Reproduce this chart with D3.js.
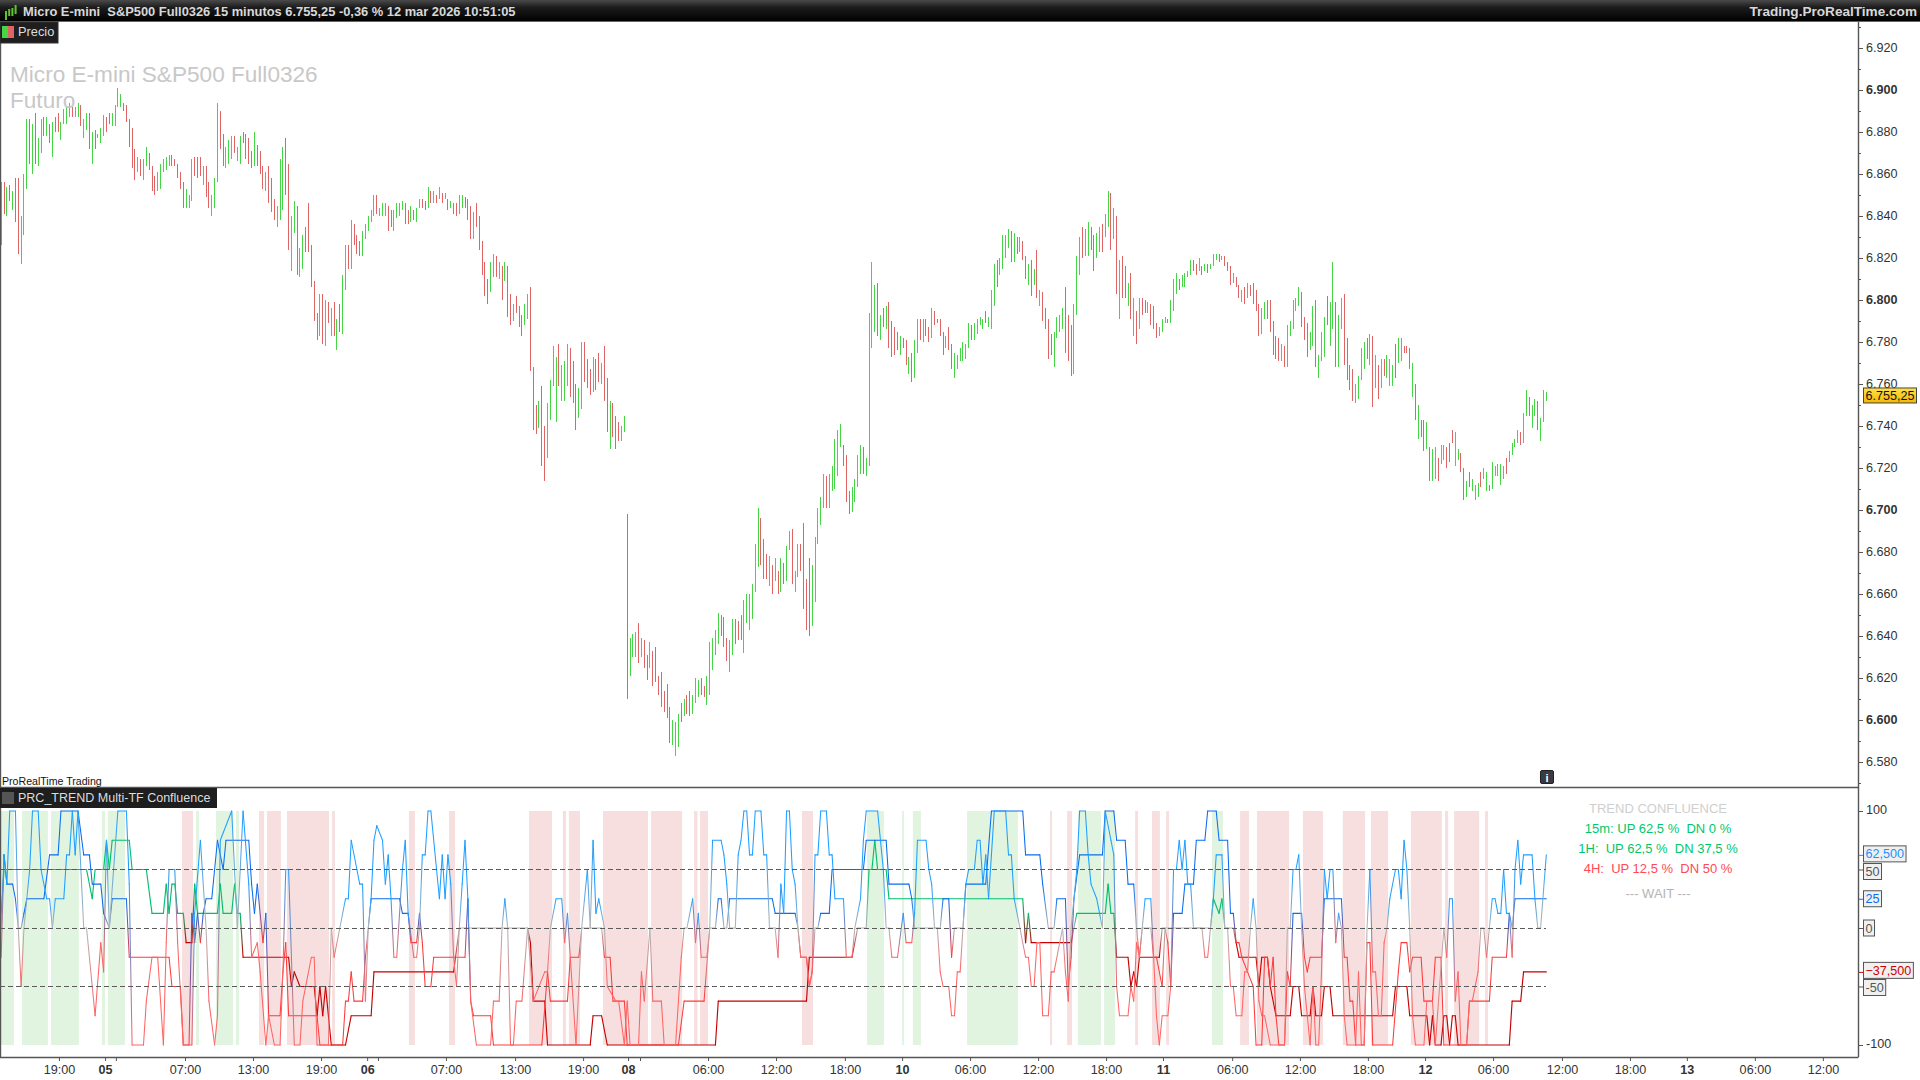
<!DOCTYPE html>
<html><head><meta charset="utf-8">
<script src="https://cdn.jsdelivr.net/npm/d3@7"></script>
<style>html,body{margin:0;padding:0;background:#fff;overflow:hidden}text{font-family:"Liberation Sans",Arial,sans-serif}</style>
</head><body><div id="c"></div>
<script>
const barHighs=[6856,6856,6854,6855,6852,6858,6858,6840,6860,6886,
6886,6884,6889,6877,6886,6887,6887,6884,6885,6887,
6889,6885,6891,6892,6894,6892,6892,6894,6893,6886,
6889,6889,6880,6881,6879,6882,6888,6887,6889,6889,
6893,6901,6898,6894,6893,6886,6882,6872,6868,6867,
6867,6873,6870,6864,6859,6861,6865,6867,6868,6869,
6869,6867,6865,6861,6856,6853,6850,6867,6868,6868,
6868,6864,6864,6856,6850,6858,6894,6890,6879,6873,
6876,6878,6878,6873,6878,6880,6879,6877,6871,6880,
6874,6871,6864,6861,6864,6858,6848,6845,6867,6873,
6877,6865,6840,6847,6845,6825,6831,6835,6846,6826,
6809,6794,6803,6803,6800,6799,6796,6799,6791,6798,
6812,6826,6826,6838,6836,6831,6828,6833,6836,6840,
6843,6850,6850,6844,6846,6846,6845,6843,6843,6846,6846,
6847,6846,6843,6845,6843,6844,6848,6848,6847,6854,
6852,6852,6850,6854,6851,6851,6848,6847,6846,6846,
6850,6850,6849,6848,6845,6842,6846,6840,6828,6818,
6810,6818,6822,6821,6818,6816,6818,6816,6803,6798,
6802,6797,6793,6798,6803,6806,
6768,6750,6752,6759,6740,6751,6762,6778,6773,6779,
6769,6771,6779,6777,6771,6760,6758,6780,6780,6772,
6767,6773,6772,6775,6770,6778,6763,6752,6751,6745,6742,6740,6745,
6698,6639,6641,6642,6646,6639,6638,6631,6637,6633,
6635,6621,6623,6614,6617,6606,6600,6599,6603,6608,
6610,6612,6614,6612,6620,6619,6620,6616,6621,6637,
6639,6643,6651,6650,6649,6639,6638,6648,6648,6647,
6650,6657,6660,6660,6665,6684,6701,6696,6686,6679,
6678,6674,6677,6671,6677,6675,6683,6690,6691,6671,
6684,6684,6694,6667,6677,6674,6687,6701,6706,6717,
6716,6717,6721,6734,6738,6741,6731,6726,6709,6711,
6715,6726,6731,6730,6725,6794,6818,6807,6808,6793,
6796,6797,6799,6790,6787,6785,6783,6782,6781,6773,
6775,6781,6791,
6791,6791,6791,6787,6796,6795,6791,6791,6785,6783,
6787,6779,6775,6774,6777,6780,6779,6789,6788,6789,
6791,6792,6791,6795,6792,6805,6817,6819,6820,6831,
6831,6834,6833,6832,6830,6830,6828,6821,6817,6819,
6815,6824,6805,6804,6796,6791,6784,6785,6792,6793,
6796,6806,6793,6788,6798,6821,6830,6835,6834,6837,
6835,6831,6832,6835,6836,6841,6852,6851,6844,6840,
6819,6821,6816,6808,6813,6801,6795,6801,6801,6800,
6799,6798,6797,6789,6787,6791,6792,6791,6800,6810,
6813,6810,6812,6813,6814,6819,6819,6817,6820,6816,
6817,6817,6817,6822,6822,6822,6821,6821,6818,6816,
6813,6811,6807,6805,6806,6808,6807,6808,6805,6798,
6796,6799,6800,6800,6790,6783,6782,6779,6778,6788,
6790,6800,6801,6806,6804,6792,6789,6785,6797,6800,
6774,6785,6792,6802,6799,6818,6799,6793,6801,6803,
6782,6769,6767,6760,6764,6777,6780,6782,6784,6783,
6774,6769,6772,6772,6774,6772,6769,6779,6782,6782,
6778,6778,6777,6770,6760,6750,6743,6743,6742,6730,
6729,6730,6725,6731,6731,6730,6732,6738,6737,6729,
6727,6720,6714,6718,6715,6712,6713,6718,6720,6718,
6712,6723,6721,6722,6722,6721,6725,6728,6732,6734,
6738,6737,6746,6757,6754,6750,6753,6752,6744,6757,6756];
const barLows=[6826,6841,6840,6847,6843,6837,6822,6817,6831,6853,
6865,6860,6865,6864,6870,6878,6878,6875,6868,6880,
6880,6876,6884,6884,6887,6887,6887,6887,6883,6877,
6881,6872,6865,6872,6877,6875,6878,6880,6884,6883,
6883,6892,6892,6890,6885,6873,6863,6857,6861,6859,
6857,6864,6862,6852,6850,6852,6853,6861,6862,6864,
6864,6864,6858,6853,6844,6844,6844,6847,6859,6858,
6859,6855,6849,6844,6840,6844,6856,6872,6864,6863,
6865,6867,6870,6866,6865,6875,6867,6865,6863,6864,
6864,6860,6853,6852,6846,6842,6838,6835,6838,6843,
6850,6824,6814,6832,6812,6811,6815,6823,6823,6806,
6790,6781,6783,6779,6778,6789,6783,6783,6776,6785,
6784,6805,6815,6815,6826,6822,6821,6821,6829,6833,
6837,6840,6841,6840,6840,6840,6833,6835,6833,6839,6840,
6843,6836,6836,6837,6838,6837,6844,6844,6843,6844,
6846,6846,6846,6848,6846,6848,6843,6844,6841,6840,
6841,6844,6844,6838,6829,6829,6835,6824,6812,6802,
6798,6804,6811,6811,6810,6800,6809,6792,6788,6790,
6794,6787,6783,6788,6791,6766,
6738,6736,6739,6721,6714,6725,6743,6759,6742,6759,
6752,6752,6759,6754,6751,6738,6744,6748,6761,6758,
6755,6756,6757,6761,6760,6752,6737,6729,6735,6729,6733,6733,6737,
6610,6621,6630,6630,6627,6630,6625,6619,6625,6616,
6618,6612,6606,6604,6601,6589,6588,6583,6587,6599,
6602,6603,6602,6603,6608,6611,6612,6611,6607,6612,
6624,6631,6636,6640,6635,6628,6623,6631,6636,6638,
6638,6632,6646,6643,6648,6661,6673,6674,6667,6667,
6664,6660,6666,6660,6661,6665,6666,6681,6665,6661,
6668,6671,6653,6643,6640,6645,6656,6684,6693,6701,
6701,6701,6709,6710,6716,6730,6721,6704,6698,6699,
6704,6711,6717,6717,6716,6721,6777,6785,6783,6781,
6787,6786,6777,6773,6774,6776,6774,6777,6769,6765,
6761,6763,6775,
6781,6780,6783,6780,6782,6788,6789,6783,6774,6777,
6776,6767,6763,6767,6771,6771,6772,6777,6781,6781,
6784,6788,6786,6789,6787,6786,6797,6806,6812,6815,
6820,6825,6818,6818,6822,6823,6819,6810,6807,6802,
6807,6801,6797,6790,6786,6772,6774,6768,6782,6785,
6786,6775,6771,6764,6765,6793,6812,6820,6821,6821,
6824,6814,6820,6823,6823,6830,6835,6824,6829,6803,
6791,6801,6801,6797,6791,6783,6779,6786,6793,6794,
6794,6788,6786,6782,6783,6785,6789,6789,6789,6795,
6803,6805,6806,6806,6811,6812,6814,6812,6814,6812,
6814,6813,6815,6816,6819,6818,6819,6816,6814,6807,
6808,6806,6801,6799,6798,6801,6802,6798,6795,6783,
6784,6791,6791,6785,6774,6772,6771,6771,6768,6768,
6783,6786,6795,6797,6787,6781,6773,6776,6778,6768,
6763,6771,6773,6788,6778,6786,6768,6768,6786,6769,
6762,6757,6752,6751,6753,6762,6767,6772,6769,6749,
6758,6753,6758,6764,6763,6759,6759,6763,6770,6771,
6775,6775,6767,6754,6743,6734,6735,6728,6729,6714,
6714,6715,6714,6722,6724,6720,6723,6732,6721,6724,
6718,6705,6706,6711,6709,6705,6706,6711,6715,6709,
6709,6710,6716,6716,6712,6715,6717,6723,6726,6730,
6732,6731,6732,6745,6745,6739,6745,6738,6733,6742,6752];
const barUp=[1,0,1,0,1,0,0,1,1,1,
0,1,0,1,1,0,1,0,1,0,
0,1,1,1,1,0,1,1,0,1,
1,0,1,0,1,1,1,0,0,1,
1,1,1,0,0,0,0,0,1,0,
1,1,0,0,0,1,1,1,1,1,
0,0,0,0,0,1,1,1,0,0,
0,1,0,0,1,1,1,0,0,1,
1,1,0,1,1,0,0,0,0,1,
0,0,0,1,0,0,0,1,1,1,
0,0,1,1,0,1,1,0,0,0,
0,0,1,0,1,0,1,0,1,0,
1,1,0,1,0,0,0,1,1,1,
1,1,0,1,1,1,0,0,1,1,1,
1,0,0,1,0,1,1,0,0,1,
0,1,0,1,0,1,0,1,0,0,
1,1,0,0,0,1,0,0,0,0,
0,1,1,0,1,0,1,0,0,1,
0,0,0,1,1,0,
0,0,1,0,0,1,1,1,1,0,
1,1,1,0,0,0,1,1,0,0,
0,1,0,0,1,0,0,1,0,0,0,1,1,
0,1,1,1,0,1,0,0,1,0,
0,0,0,0,0,0,1,1,1,0,
1,0,0,1,1,1,0,0,1,1,
1,1,1,0,0,0,1,1,0,0,
0,1,1,1,1,1,1,0,0,0,
1,0,1,0,1,0,1,1,0,1,
1,0,0,0,0,1,1,1,1,1,
0,1,1,1,1,1,0,0,0,1,
1,1,1,0,1,1,1,1,0,1,
0,1,0,0,0,0,1,0,0,1,
0,1,1,
0,1,0,0,1,0,0,0,0,1,
0,0,1,1,1,1,1,1,0,1,
1,1,1,0,1,1,1,0,1,1,
1,1,0,1,0,1,0,0,1,0,
1,0,1,0,0,0,0,1,1,1,
1,0,0,0,1,1,1,0,1,1,
0,0,1,1,0,1,1,0,1,0,
1,0,0,1,0,1,0,1,0,0,
1,0,0,0,1,1,1,0,1,1,
1,0,1,1,1,1,0,0,1,0,
1,0,1,1,1,0,1,0,0,0,
1,0,0,1,0,1,0,0,0,0,
1,1,0,0,0,0,0,1,0,1,
1,1,1,1,0,0,0,1,1,0,
1,1,1,0,1,1,0,1,1,0,
0,0,0,1,1,1,1,0,1,0,
1,0,1,0,1,1,1,0,1,1,
0,0,0,1,0,1,0,0,1,0,
1,1,0,1,1,0,0,0,1,1,
0,0,1,0,1,1,1,0,1,1,
0,1,1,1,1,1,0,1,1,1,
1,0,1,1,0,1,1,0,1,1,1];

const points15m=[[0,-25],[1,62.5],[2,37.5],[3,100],[5,100],[6,0],[7,-50],[8,0],[10,50],[11,100],[13,100],[14,50],[16,25],[17,25],[18,0],[19,25],[22,25],[23,62.5],[24,62.5],[25,100],[26,62.5],[27,100],[29,0],[30,0],[33,-75],[35,-12.5],[36,-37.5],[37,75],[38,0],[41,100],[44,100],[45,37.5],[46,-100],[50,-100],[51,-62.5],[53,-25],[55,-25],[57,-100],[58,-12.5],[59,50],[61,50],[62,-12.5],[64,-100],[67,-100],[68,12.5],[70,75],[72,0],[73,-62.5],[75,-100],[76,-75],[77,75],[81,100],[83,0],[85,100],[87,37.5],[88,-25],[90,-12.5],[91,-37.5],[93,-100],[94,-75],[96,-100],[98,-100],[99,-37.5],[100,50],[101,50],[103,-100],[105,-100],[106,-62.5],[109,-25],[110,-25],[111,-100],[115,-100],[116,0],[117,-25],[119,0],[121,25],[122,25],[123,75],[125,50],[126,37.5],[127,37.5],[128,-62.5],[129,0],[130,25],[131,75],[132,87.5],[134,75],[135,37.5],[136,62.5],[137,25],[138,-25],[139,-25],[141,50],[142,75],[143,12.5],[145,-25],[146,-25],[147,0],[148,62.5],[149,62.5],[150,100],[151,100],[154,25],[155,62.5],[156,25],[157,62.5],[158,37.5],[159,-25],[160,-50],[161,0],[162,37.5],[163,75],[164,25],[165,-62.5],[167,-100],[172,-100],[173,-62.5],[175,-62.5],[176,0],[177,25],[178,0],[179,-100],[180,-100],[181,-62.5],[183,-62.5],[185,0],[187,-62.5],[191,-37.5],[192,-37.5],[193,0],[195,25],[197,25],[198,-12.5],[199,12.5],[200,-25],[202,-100],[204,0],[206,50],[207,0],[208,75],[209,12.5],[210,25],[212,0],[213,-50],[216,-62.5],[217,-62.5],[219,-100],[220,-62.5],[221,-100],[224,-100],[225,-37.5],[226,-62.5],[228,0],[229,-62.5],[232,-62.5],[233,-100],[237,-100],[239,-25],[240,0],[241,0],[243,25],[244,-12.5],[245,12.5],[246,-25],[248,-25],[249,0],[250,75],[253,75],[254,62.5],[255,37.5],[256,0],[258,0],[259,62.5],[260,75],[261,100],[262,100],[263,62.5],[264,62.5],[265,100],[267,100],[268,62.5],[269,62.5],[270,0],[272,0],[273,-25],[274,37.5],[275,12.5],[276,100],[277,100],[278,50],[279,37.5],[280,0],[281,-25],[283,-25],[284,-50],[285,-37.5],[286,62.5],[287,62.5],[288,100],[290,100],[291,62.5],[292,62.5],[293,25],[296,25],[297,-25],[299,-25],[300,0],[302,25],[303,75],[304,100],[308,100],[310,50],[311,0],[312,0],[313,-25],[315,-25],[317,12.5],[318,-12.5],[320,-12.5],[321,12.5],[322,75],[325,75],[326,50],[327,37.5],[328,0],[329,0],[330,-37.5],[331,-50],[333,-50],[334,-75],[335,-75],[336,-37.5],[337,-37.5],[338,0],[339,37.5],[340,50],[342,50],[343,75],[344,75],[345,37.5],[346,62.5],[347,25],[348,62.5],[349,100],[353,100],[354,62.5],[355,62.5],[356,25],[358,0],[360,-25],[361,-25],[362,-50],[363,-50],[364,-12.5],[365,-12.5],[366,-75],[368,-75],[369,-37.5],[370,-37.5],[373,0],[374,-37.5],[375,-62.5],[376,0],[378,50],[379,100],[381,100],[382,62.5],[383,37.5],[385,25],[386,12.5],[387,0],[388,100],[390,75],[391,62.5],[392,-50],[393,-75],[396,-75],[397,-50],[398,-62.5],[399,-12.5],[400,-25],[401,0],[402,25],[404,25],[405,-25],[406,-75],[407,-100],[408,-75],[410,-75],[411,-50],[412,50],[413,50],[414,75],[415,50],[416,75],[417,37.5],[418,37.5],[419,0],[422,0],[423,-25],[424,-25],[425,0],[426,25],[427,62.5],[429,62.5],[430,0],[431,0],[432,-50],[433,-50],[434,-75],[436,-75],[437,-37.5],[438,-37.5],[439,0],[440,25],[441,0],[442,-62.5],[443,-75],[444,-75],[446,-100],[451,-100],[452,0],[453,0],[454,50],[455,50],[456,62.5],[457,0],[458,-50],[460,-100],[461,-50],[462,-100],[463,-100],[464,-37.5],[465,50],[466,25],[467,50],[468,50],[469,-12.5],[470,12.5],[471,0],[472,-75],[473,-100],[476,-100],[477,-37.5],[478,-100],[479,-100],[480,0],[481,50],[482,-37.5],[483,-37.5],[484,-75],[485,-75],[486,-12.5],[487,0],[488,25],[490,50],[491,50],[492,25],[493,75],[494,50],[495,0],[496,-75],[497,-100],[500,-100],[501,-62.5],[503,-62.5],[504,-100],[507,0],[508,-25],[509,25],[510,25],[511,-62.5],[512,-37.5],[513,-100],[515,-100],[516,-62.5],[517,-62.5],[519,-37.5],[520,0],[521,0],[522,-25],[523,0],[524,25],[525,25],[526,12.5],[527,12.5],[528,50],[529,12.5],[530,12.5],[531,-25],[532,50],[533,75],[534,37.5],[535,62.5],[538,62.5],[539,25],[540,0],[541,0],[543,62.5]];

const points1H=[[0,0],[1,62.5],[2,37.5],[4,37.5],[5,25],[6,0],[7,0],[8,12.5],[9,25],[15,25],[17,62.5],[20,62.5],[21,100],[27,100],[29,62.5],[31,62.5],[32,37.5],[35,37.5],[36,12.5],[38,0],[39,25],[44,25],[45,-25],[59,-25],[60,-50],[63,-50],[64,-100],[66,-100],[67,12.5],[68,-12.5],[69,12.5],[70,-12.5],[71,12.5],[72,25],[74,25],[76,75],[78,50],[79,75],[87,75],[88,37.5],[89,12.5],[90,37.5],[92,-12.5],[93,12.5],[94,-75],[98,-75],[99,-37.5],[100,-12.5],[101,-75],[111,-75],[112,-100],[120,-100],[121,-62.5],[122,-62.5],[123,-37.5],[124,-62.5],[127,-62.5],[128,-25],[129,0],[130,25],[140,25],[141,12.5],[143,12.5],[144,-12.5],[146,-12.5],[147,12.5],[148,-12.5],[149,-50],[151,-50],[152,-25],[163,-25],[164,25],[165,-62.5],[166,-75],[172,-75],[173,-100],[190,-100],[192,-37.5],[193,-62.5],[199,-62.5],[200,-25],[203,-25],[204,0],[211,0],[212,-25],[214,-25],[215,-62.5],[219,-62.5],[220,-100],[238,-100],[240,-62.5],[247,-62.5],[249,0],[251,0],[252,25],[253,25],[254,0],[255,0],[256,25],[271,25],[272,12.5],[279,12.5],[280,0],[281,-25],[283,-25],[284,-50],[285,-37.5],[286,0],[287,0],[288,12.5],[291,12.5],[292,50],[303,50],[304,75],[311,75],[312,37.5],[319,37.5],[320,25],[321,0],[330,0],[331,25],[333,25],[334,-25],[335,0],[338,0],[339,37.5],[346,37.5],[348,100],[359,100],[360,62.5],[365,62.5],[366,37.5],[368,0],[370,0],[371,25],[374,25],[375,-50],[376,-25],[377,25],[379,62.5],[387,62.5],[388,100],[391,100],[392,75],[395,75],[396,37.5],[398,37.5],[399,0],[400,-25],[401,0],[404,0],[405,-25],[406,-25],[408,-50],[409,0],[410,-12.5],[411,-50],[412,12.5],[415,12.5],[416,37.5],[419,37.5],[420,75],[423,75],[424,100],[427,100],[428,75],[431,75],[432,12.5],[433,12.5],[434,-12.5],[435,-12.5],[436,-25],[438,-37.5],[440,-50],[441,-100],[443,-100],[444,-25],[445,-25],[446,-50],[447,-25],[448,-75],[449,-100],[451,-100],[452,-37.5],[453,-50],[454,12.5],[457,12.5],[458,-25],[459,-37.5],[460,-25],[464,-25],[465,25],[471,25],[472,-25],[473,-25],[474,-62.5],[475,-62.5],[476,-100],[479,-100],[480,-12.5],[481,-12.5],[482,-100],[489,-100],[491,-37.5],[492,-12.5],[494,-12.5],[495,-37.5],[496,-25],[499,-25],[500,-62.5],[503,-62.5],[504,-25],[506,-25],[507,-100],[515,-100],[516,-62.5],[523,-62.5],[524,-25],[529,-25],[530,12.5],[531,0],[532,25],[543,25]];

const points4H=[[0,12.5],[1,50],[30,50],[32,25],[33,50],[36,50],[37,75],[38,50],[39,75],[45,75],[46,50],[51,50],[53,12.5],[57,12.5],[58,37.5],[59,12.5],[60,37.5],[61,37.5],[62,12.5],[64,12.5],[65,-12.5],[67,-12.5],[68,37.5],[69,12.5],[76,12.5],[77,37.5],[78,12.5],[81,12.5],[82,37.5],[83,12.5],[84,12.5],[85,-25],[101,-25],[102,-50],[103,-37.5],[105,-50],[110,-50],[111,-75],[112,-50],[113,-75],[114,-50],[116,-100],[121,-100],[123,-75],[130,-75],[131,-37.5],[159,-37.5],[161,0],[185,0],[186,-12.5],[187,-62.5],[191,-62.5],[192,-100],[207,-100],[208,-75],[211,-75],[213,-100],[251,-100],[252,-62.5],[283,-62.5],[284,-25],[299,-25],[301,0],[304,0],[305,50],[306,50],[307,75],[308,50],[311,50],[312,25],[359,25],[360,-12.5],[361,12.5],[362,-12.5],[376,-12.5],[377,0],[378,12.5],[388,12.5],[389,37.5],[390,12.5],[391,12.5],[392,-25],[396,-25],[397,-50],[398,-37.5],[399,-50],[400,-25],[407,-25],[408,0],[425,0],[426,25],[428,12.5],[429,25],[430,0],[433,0],[434,-12.5],[435,-25],[441,-25],[442,-50],[443,-25],[445,-25],[446,-50],[448,-75],[453,-75],[454,-50],[456,-50],[457,-75],[460,-75],[461,-50],[462,-75],[464,-75],[465,-50],[467,-50],[468,-75],[489,-75],[490,-50],[494,-50],[495,-75],[501,-75],[502,-100],[503,-75],[504,-100],[506,-100],[507,-75],[508,-75],[509,-100],[510,-75],[511,-75],[512,-100],[530,-100],[531,-62.5],[534,-62.5],[535,-37.5],[543,-37.5]];

const shadeGreenFrom=[-0.4,7.3,17.5,35.4,37.5,68.5,75.5,82.5,304.3,316.6,320.4,339.4,378.4,387.6,425.5];
const shadeGreenTo=[4.5,16.4,27.3,36.5,43.5,69.5,81.5,83.6,310.2,317.3,323.2,357.3,386.5,391.4,429.4];
const shadeRedFrom=[63.5,90.6,93.4,100.4,116.3,143.3,157.4,185.5,197.4,199.5,211.5,228.4,243.5,245.6,281.4,368.6,374.6,398.5,404.4,409.4,435.4,441.3,457.5,471.5,481.4,495.4,507.4,510.6,521.5];
const shadeRedTo=[67.4,92.4,98.3,115.2,117.3,145.4,159.5,193.6,198.5,203.4,227.3,239.3,244.7,248.4,285.3,369.3,376.3,399.5,407.2,410.4,438.5,452.6,464.5,479.3,487.4,506.3,508.5,519.4,522.5];

const timeTickBars=[20.3,36.5,40.3,64.6,88.5,112.4,128.6,132.4,156.3,180.6,204.5,220.3,224.5,248.4,272.3,296.5,316.6,340.5,364.4,388.3,408.3,432.6,456.4,480.3,500.4,524.3,548.5,572.4,592.4,616.3,640.2];
const timeTickLabels=["19:00","05","","07:00","13:00","19:00","06","","07:00","13:00","19:00","08","","06:00","12:00","18:00","10","06:00","12:00","18:00","11","06:00","12:00","18:00","12","06:00","12:00","18:00","13","06:00","12:00"];
const priceTicks=[6570,6580,6590,6600,6610,6620,6630,6640,6650,6660,6670,6680,6690,6700,6710,6720,6730,6740,6750,6760,6770,6780,6790,6800,6810,6820,6830,6840,6850,6860,6870,6880,6890,6900,6910,6920,6930];
const lastPrice=6755.25;
const indicatorTicks=[100,-100];
const indicatorTags=[62.5,50,25,0,-37.5,-50];
const tagColors=["#1e90ff","#555555","#0a6cf0","#555555","#cc0000","#555555"];
const guideLevels=[50,0,-50];
const tableLines=["TREND CONFLUENCE","15m: UP 62,5 %  DN 0 %","1H:  UP 62,5 %  DN 37,5 %","4H:  UP 12,5 %  DN 50 %","--- WAIT ---"];
const tableColors=["#cfcfcf","#00c86a","#00c86a","#ff4a55","#b4b4b4"];

const W=1920,H=1080;
const svg=d3.select("#c").append("svg").attr("width",W).attr("height",H).style("display","block");
const defs=svg.append("defs");
const x=d3.scaleLinear().domain([0,543]).range([1.2,1546.3]);
const yP=d3.scaleLinear().domain([6900,6800]).range([90,300]);
const yI=d3.scaleLinear().domain([100,-100]).range([811,1045]);
const loc=d3.formatLocale({decimal:",",thousands:".",grouping:[3],currency:["",""]});
const axisFont=12.6;

const g0=defs.append("linearGradient").attr("id","hdr").attr("x1",0).attr("x2",0).attr("y1",0).attr("y2",1);
g0.append("stop").attr("offset",0).attr("stop-color","#4a4a4a");
g0.append("stop").attr("offset",0.35).attr("stop-color","#1c1c1c");
g0.append("stop").attr("offset",1).attr("stop-color","#000");
const gY=defs.append("linearGradient").attr("id","tag").attr("x1",0).attr("x2",0).attr("y1",0).attr("y2",1);
gY.append("stop").attr("offset",0).attr("stop-color","#ffe04a");
gY.append("stop").attr("offset",1).attr("stop-color","#f5b800");

const shade=svg.append("g");
shade.selectAll("rect.g").data(d3.zip(shadeGreenFrom,shadeGreenTo)).join("rect").attr("class","g")
 .attr("x",d=>x(d[0])).attr("width",d=>x(d[1])-x(d[0])).attr("y",yI(100)).attr("height",yI(-100)-yI(100)).attr("fill","#e0f4e0");
shade.selectAll("rect.r").data(d3.zip(shadeRedFrom,shadeRedTo)).join("rect").attr("class","r")
 .attr("x",d=>x(d[0])).attr("width",d=>x(d[1])-x(d[0])).attr("y",yI(100)).attr("height",yI(-100)-yI(100)).attr("fill","#f7dfdf");

svg.append("g").selectAll("line").data(barHighs.map((h,i)=>({i,h,l:barLows[i],u:barUp[i]}))).join("line")
 .attr("x1",d=>x(d.i)).attr("x2",d=>x(d.i)).attr("y1",d=>yP(d.h)).attr("y2",d=>yP(d.l))
 .attr("stroke",d=>d.u?"#45d545":"#e06464").attr("stroke-width",1).attr("shape-rendering","crispEdges");

function series(id,pts,pos,neg,width,opacity){
 const col=v=>v>0?pos:v<0?neg:"#b4b4b4";
 const g=svg.append("g").attr("fill","none").attr("stroke-width",width).attr("stroke-opacity",opacity).attr("stroke-linecap","round");
 d3.pairs(pts).forEach(([a,b],k)=>{
  const ca=col(a[1]),cb=col(b[1]);let st=ca;
  if(ca!==cb){
   const gid=id+k;
   const lg=defs.append("linearGradient").attr("id",gid).attr("gradientUnits","userSpaceOnUse")
    .attr("x1",x(a[0])).attr("y1",yI(a[1])).attr("x2",x(b[0])).attr("y2",yI(b[1]));
   lg.append("stop").attr("offset",0).attr("stop-color",ca);
   lg.append("stop").attr("offset",1).attr("stop-color",cb);
   st="url(#"+gid+")";
  }
  g.append("line").attr("x1",x(a[0])).attr("y1",yI(a[1])).attr("x2",x(b[0])).attr("y2",yI(b[1])).attr("stroke",st);
 });
}
series("s4h",points4H,"#00c070","#c80000",1.15,1);
series("s1h",points1H,"#0a6cf0","#ff3a3a",1.05,1);
series("s15",points15m,"#1f9fff","#ff6464",1.05,1);

svg.append("g").selectAll("line").data(guideLevels).join("line")
 .attr("x1",0).attr("x2",x(543)).attr("y1",d=>yI(d)).attr("y2",d=>yI(d))
 .attr("stroke","#5a5a5a").attr("stroke-dasharray","5 3").attr("stroke-width",1).attr("shape-rendering","crispEdges");

const frame=svg.append("g").attr("stroke","#555").attr("stroke-width",1.4).attr("fill","none");
frame.append("line").attr("x1",1858.5).attr("x2",1858.5).attr("y1",21).attr("y2",1057);
frame.append("line").attr("x1",0).attr("x2",1858.5).attr("y1",787.5).attr("y2",787.5);
frame.append("line").attr("x1",0).attr("x2",1858.5).attr("y1",1057.5).attr("y2",1057.5);
frame.append("line").attr("x1",0.5).attr("x2",0.5).attr("y1",21).attr("y2",1057);

const axB=svg.append("g").attr("transform","translate(0,1057)")
 .call(d3.axisBottom(x).tickValues(timeTickBars).tickSize(4).tickPadding(1).tickFormat((d,i)=>timeTickLabels[i]));
axB.select(".domain").remove();
axB.selectAll("line").attr("stroke","#555");
axB.selectAll("text").attr("font-size",axisFont).attr("fill","#333").attr("dy","0.95em")
 .attr("font-weight",(d,i)=>timeTickLabels[i].length===2?"bold":"normal");

const axP=svg.append("g").attr("transform","translate(1859,0)")
 .call(d3.axisRight(yP).tickValues(priceTicks).tickSize(4).tickPadding(3).tickFormat(d=>d%20===0?loc.format(",d")(d):""));
axP.select(".domain").remove();
axP.selectAll("line").attr("stroke","#555").attr("x2",d=>d%20===0?4:2);
axP.selectAll("text").attr("font-size",axisFont).attr("fill","#333").attr("font-weight",d=>d%100===0?"bold":"normal").attr("dy","0.28em");

const tagG=svg.append("g");
tagG.append("rect").attr("x",1863.5).attr("y",yP(lastPrice)-6).attr("width",53).attr("height",15).attr("fill","url(#tag)").attr("stroke","#444");
tagG.append("text").attr("x",1865.5).attr("y",yP(lastPrice)+6).attr("font-size",axisFont).attr("fill","#111").text(loc.format(",.2f")(lastPrice));

const axI=svg.append("g").attr("transform","translate(1859,0)")
 .call(d3.axisRight(yI).tickValues(indicatorTicks.concat(indicatorTags)).tickSize(4).tickPadding(3)
 .tickFormat(d=>indicatorTicks.includes(d)?d:""));
axI.select(".domain").remove();
axI.selectAll("line").attr("stroke",d=>{const k=indicatorTags.indexOf(d);return k>=0?tagColors[k]:"#555";});
axI.selectAll("text").attr("font-size",axisFont).attr("fill","#333").attr("dy","0.22em");
const tagNudge=new Map([[62.5,-1],[50,2],[25,0],[0,0],[-37.5,-1.5],[-50,1]]);
indicatorTags.forEach((v,k)=>{
 const cy=yI(v)+tagNudge.get(v);
 const label=Number.isInteger(v)?String(v):loc.format(".3f")(v);
 const g=svg.append("g");
 const r=g.append("rect").attr("x",1863.5).attr("y",cy-8).attr("height",16).attr("fill","#f0f0f0").attr("stroke","#555");
 const t=g.append("text").attr("x",1865.5).attr("y",cy+4.5).attr("font-size",axisFont).attr("fill",tagColors[k]).text(label);
 r.attr("width",t.node().getComputedTextLength()+4);
});

svg.append("g").selectAll("text").data(tableLines).join("text")
 .attr("x",1658).attr("y",(d,i)=>[813,833,853,873,898][i]).attr("text-anchor","middle")
 .style("white-space","pre")
 .attr("font-size",13).attr("fill",(d,i)=>tableColors[i]).text(d=>d);

svg.append("rect").attr("x",0).attr("y",0).attr("width",W).attr("height",21).attr("fill","url(#hdr)");
svg.append("line").attr("x1",0).attr("x2",W).attr("y1",21.5).attr("y2",21.5).attr("stroke","#666");
svg.append("g").selectAll("rect").data([0,1,2,3]).join("rect")
 .attr("x",d=>5+d*3.2).attr("y",d=>[11,9,8,5][d]).attr("width",2).attr("height",d=>[9,7,8,9][d]).attr("fill","#5cc22e");
svg.append("text").attr("x",23).attr("y",15.5).attr("font-size",12.87).attr("font-weight","bold").attr("fill","#d8d8d8")
 .style("white-space","pre").text("Micro E-mini  S&P500 Full0326 15 minutos 6.755,25 -0,36 % 12 mar 2026 10:51:05");
svg.append("text").attr("x",1917).attr("y",15.5).attr("text-anchor","end").attr("font-size",13.6).attr("font-weight","bold").attr("fill","#d8d8d8").text("Trading.ProRealTime.com");

svg.append("rect").attr("x",0).attr("y",22).attr("width",58).attr("height",21).attr("fill","#1e1e1e").attr("stroke","#333");
svg.append("rect").attr("x",2).attr("y",26).attr("width",6).attr("height",12).attr("fill","#45d545");
svg.append("rect").attr("x",8).attr("y",26).attr("width",6).attr("height",12).attr("fill","#e06464");
svg.append("text").attr("x",18).attr("y",35.5).attr("font-size",12.8).attr("fill","#ddd").text("Precio");
svg.append("text").attr("x",10).attr("y",82).attr("font-size",22.6).attr("fill","#c8c8c8").text("Micro E-mini S&P500 Full0326");
svg.append("text").attr("x",10).attr("y",108).attr("font-size",22.6).attr("fill","#c8c8c8").text("Futuro");
svg.append("text").attr("x",2).attr("y",785).attr("font-size",10.6).attr("fill","#111").text("ProRealTime Trading");
svg.append("rect").attr("x",0).attr("y",788).attr("width",217).attr("height",20).attr("fill","#1e1e1e");
svg.append("rect").attr("x",2).attr("y",792).attr("width",12).attr("height",12).attr("fill","#555");
svg.append("text").attr("x",18).attr("y",802).attr("font-size",12.5).attr("fill","#ddd").text("PRC_TREND Multi-TF Confluence");
svg.append("rect").attr("x",1540.5).attr("y",770.5).attr("width",13).attr("height",13).attr("rx",1.5).attr("fill","#3a3a44").attr("stroke","#222");
svg.append("text").attr("x",1547).attr("y",781.5).attr("text-anchor","middle").attr("font-size",11).attr("font-weight","bold").attr("font-family","Liberation Serif").attr("fill","#fff").text("i");
</script></body></html>
